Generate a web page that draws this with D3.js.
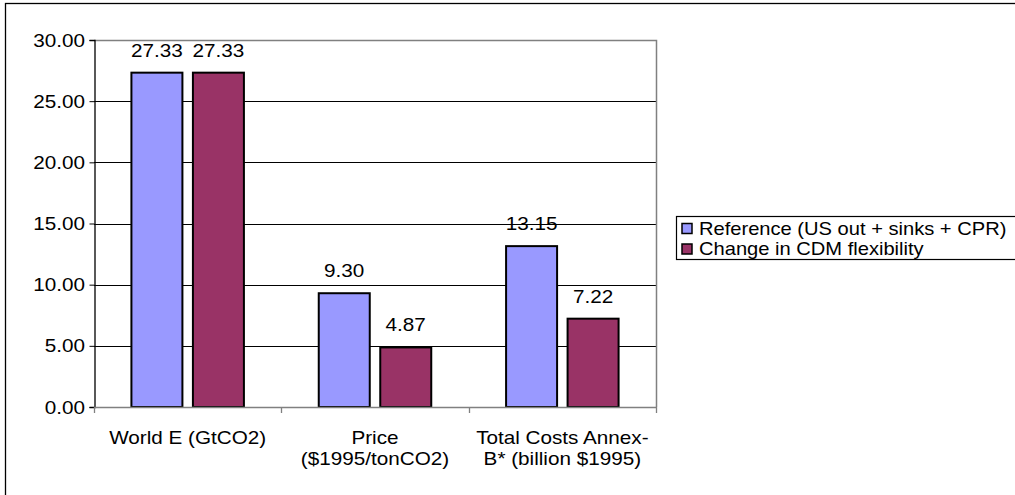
<!DOCTYPE html>
<html>
<head>
<meta charset="utf-8">
<script src="https://cdn.jsdelivr.net/npm/d3@7"></script>
<style>
  html, body { margin: 0; padding: 0; background: #fff; }
  svg { display: block; font-family: "Liberation Sans", Arial, sans-serif; }
</style>
</head>
<body>
<svg id="chart" width="1015" height="495"></svg>
<script>
const categories = [["World E (GtCO2)"], ["Price", "($1995/tonCO2)"], ["Total Costs Annex-", "B* (billion $1995)"]];
const seriesNames = ["Reference (US out + sinks + CPR)", "Change in CDM flexibility"];
const referenceValues = [27.33, 9.30, 13.15];
const cdmValues = [27.33, 4.87, 7.22];
const yTicks = [0, 5, 10, 15, 20, 25, 30];
const colors = ["#9999FF", "#993366"];

const FS = 18, SX = 1.15;
const svg = d3.select("#chart");
const plot = { left: 94, right: 656, top: 40, bottom: 407 };

// helper: horizontally stretched text
function stext(parent, x, y, str, anchor, fs) {
  return parent.append("text")
    .attr("transform", `translate(${x},${y}) scale(${SX},1)`)
    .attr("text-anchor", anchor || "start")
    .attr("font-size", fs || FS).attr("fill", "#000")
    .text(str);
}

// outer border
svg.append("rect").attr("x", 5.5).attr("y", 3.5).attr("width", 1030).attr("height", 520)
  .attr("fill", "none").attr("stroke", "#000").attr("stroke-width", 1.3);

const x0 = d3.scaleBand().domain(d3.range(categories.length)).range([plot.left, plot.right]);
const y = d3.scaleLinear().domain([0, 30]).range([plot.bottom, plot.top]);

// gridlines
svg.append("g").selectAll("line").data(yTicks.filter(t => t > 0 && t < 30)).join("line")
  .attr("x1", plot.left).attr("x2", plot.right)
  .attr("y1", d => Math.round(y(d)) + 0.5).attr("y2", d => Math.round(y(d)) + 0.5)
  .attr("stroke", "#000").attr("stroke-width", 1);

// plot border (top/right gray)
svg.append("path")
  .attr("d", `M${plot.left},${plot.top + 0.5}H${plot.right + 0.5}V${plot.bottom}`)
  .attr("fill", "none").attr("stroke", "#808080").attr("stroke-width", 1.5);

// bars
const barW = 51, barGap = 10.5;
const series = [referenceValues, cdmValues];
series.forEach((vals, si) => {
  const g = svg.append("g");
  g.selectAll("rect").data(vals).join("rect")
    .attr("x", (d, i) => x0(i) + x0.bandwidth() / 2 + (si === 0 ? -(barW + barGap / 2) : barGap / 2))
    .attr("y", d => y(d))
    .attr("width", barW)
    .attr("height", d => y(0) - y(d))
    .attr("fill", colors[si])
    .attr("stroke", "#000").attr("stroke-width", 2);
  vals.forEach((d, i) => {
    const cx = x0(i) + x0.bandwidth() / 2 + (si === 0 ? -(barW / 2 + barGap / 2) : barW / 2 + barGap / 2);
    stext(g, cx, y(d) - 16, d.toFixed(2), "middle");
  });
});

// y axis
const yAxis = d3.axisLeft(y).tickValues(yTicks).tickFormat("").tickSizeOuter(0).tickSize(5);
const yg = svg.append("g").attr("transform", `translate(${plot.left + 0.5},0)`).call(yAxis);
yg.select(".domain").attr("stroke", "#000").attr("stroke-width", 1.3);
yg.selectAll(".tick line").attr("stroke", "#000");
const yl = svg.append("g");
yTicks.forEach(t => stext(yl, 85, y(t) + 6.5, d3.format(".2f")(t), "end"));

// x axis line
svg.append("line").attr("x1", plot.left).attr("x2", plot.right + 1)
  .attr("y1", plot.bottom + 0.5).attr("y2", plot.bottom + 0.5)
  .attr("stroke", "#808080").attr("stroke-width", 1.5);
// category tick marks at band boundaries
const bounds = d3.range(categories.length + 1).map(i => i < categories.length ? x0(i) : x0(i - 1) + x0.bandwidth());
svg.append("g").selectAll("line").data(bounds).join("line")
  .attr("x1", d => Math.round(d) + 0.5).attr("x2", d => Math.round(d) + 0.5)
  .attr("y1", plot.bottom).attr("y2", plot.bottom + 6)
  .attr("stroke", "#808080").attr("stroke-width", 1.3);

// category labels
const catG = svg.append("g");
categories.forEach((lines, i) => {
  lines.forEach((ln, j) => stext(catG, x0(i) + x0.bandwidth() / 2, 444 + j * 21, ln, "middle"));
});

// legend
const lg = svg.append("g");
lg.append("rect").attr("x", 676.5).attr("y", 216.5).attr("width", 400).attr("height", 43)
  .attr("fill", "#fff").attr("stroke", "#000").attr("stroke-width", 1.2);
seriesNames.forEach((name, i) => {
  const cy = 228.5 + i * 20.5;
  lg.append("rect").attr("x", 682).attr("y", cy - 5).attr("width", 10).attr("height", 10)
    .attr("fill", colors[i]).attr("stroke", "#000").attr("stroke-width", 1.5);
  stext(lg, 699, cy + 6.3, name, "start", 17.5);
});
</script>
</body>
</html>
